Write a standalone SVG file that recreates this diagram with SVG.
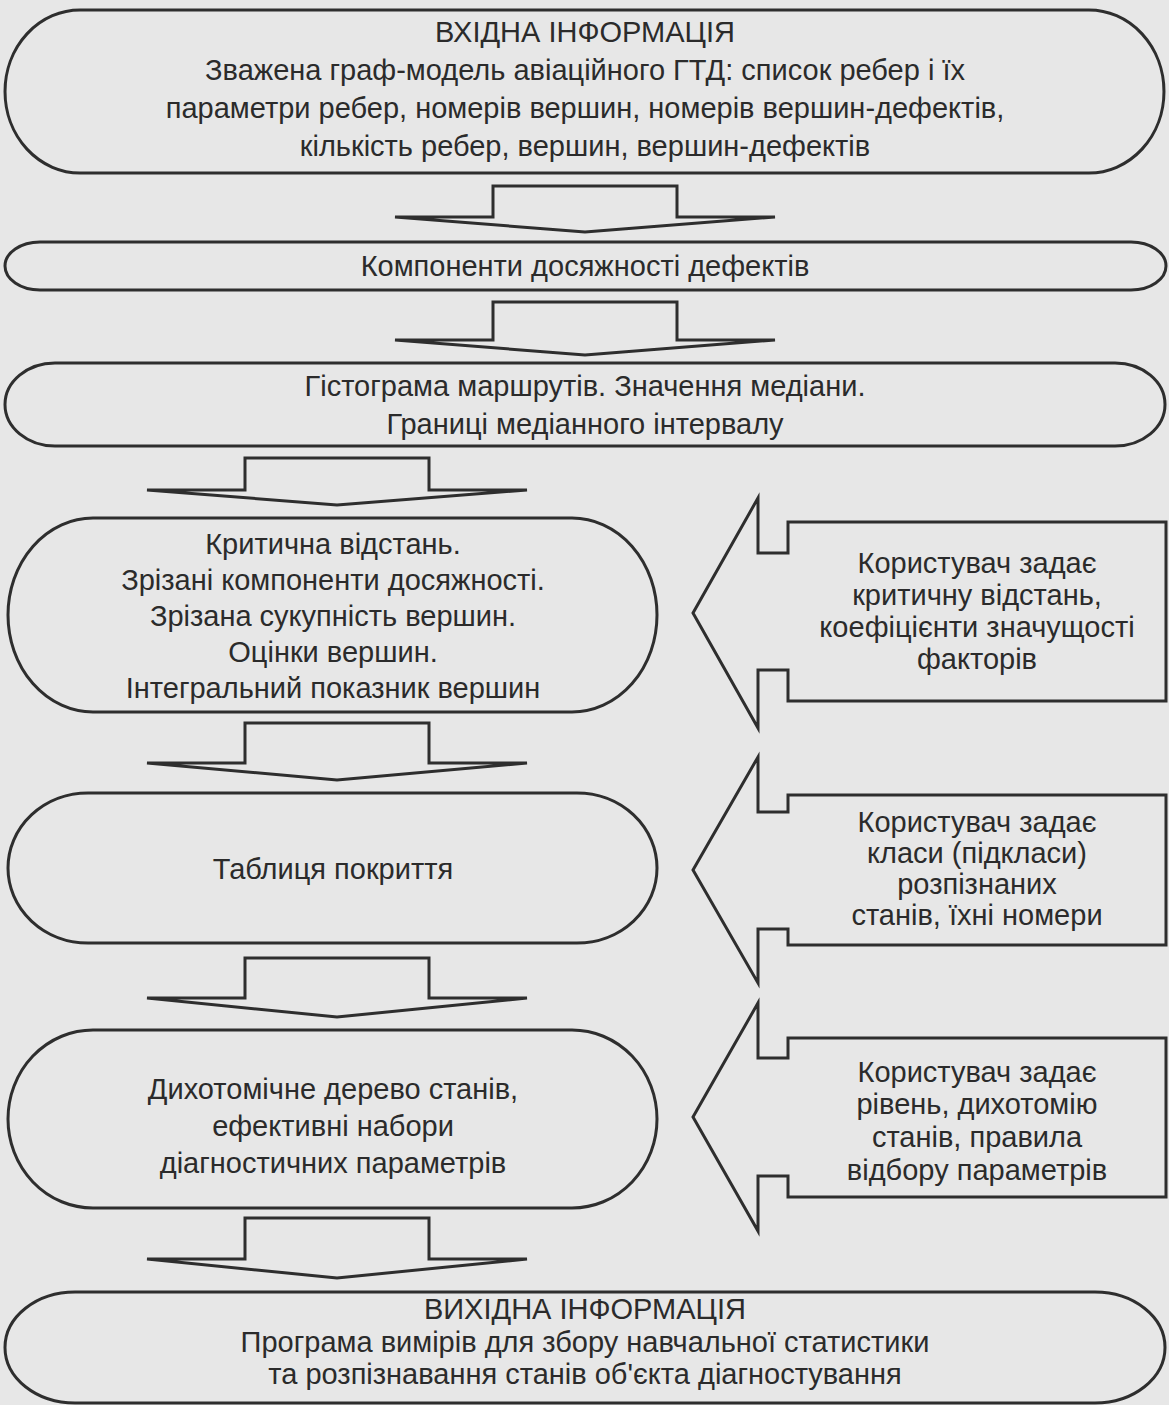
<svg xmlns="http://www.w3.org/2000/svg" width="1169" height="1405" viewBox="0 0 1169 1405">
<style>
.shape{fill:none;stroke:#2e2e2e;stroke-width:3;stroke-linejoin:miter}
.t{font-family:"Liberation Sans",Arial,sans-serif;font-size:29px;fill:#2b2b2b;text-anchor:middle}
</style>
<rect x="0" y="0" width="1169" height="1405" fill="#e7e7e7"/>
<g id="connectors">
<path class="shape" d="M493,186 H677 V217 H775 L585,232 L395,217 H493 Z"/>
<path class="shape" d="M493,302 H677 V340 H775 L585,355 L395,340 H493 Z"/>
<path class="shape" d="M245,458 H429 V490 H527 L337,505 L147,490 H245 Z"/>
<path class="shape" d="M245,723 H429 V763 H527 L337,780 L147,763 H245 Z"/>
<path class="shape" d="M245,958 H429 V998 H527 L337,1017 L147,998 H245 Z"/>
<path class="shape" d="M245,1218 H429 V1259 H527 L337,1278 L147,1259 H245 Z"/>
</g>
<g id="input">
<path class="shape" d="M80,10 H1089 A75,81.5 0 0 1 1089,173 H80 A75,81.5 0 0 1 80,10 Z"/>
<text class="t" x="585" y="42">ВХІДНА ІНФОРМАЦІЯ</text>
<text class="t" x="585" y="80">Зважена граф-модель авіаційного ГТД: список ребер і їх</text>
<text class="t" x="585" y="118">параметри ребер, номерів вершин, номерів вершин-дефектів,</text>
<text class="t" x="585" y="156">кількість ребер, вершин, вершин-дефектів</text>
</g>
<g id="components">
<path class="shape" d="M40,242 H1131 A35,24 0 0 1 1131,290 H40 A35,24 0 0 1 40,242 Z"/>
<text class="t" x="585" y="276">Компоненти досяжності дефектів</text>
</g>
<g id="histogram">
<path class="shape" d="M55,363 H1115 A50,41.5 0 0 1 1115,446 H55 A50,41.5 0 0 1 55,363 Z"/>
<text class="t" x="585" y="396">Гістограма маршрутів. Значення медіани.</text>
<text class="t" x="585" y="434">Границі медіанного інтервалу</text>
</g>
<g id="critical">
<path class="shape" d="M93,518 H572 A85,97 0 0 1 572,712 H93 A85,97 0 0 1 93,518 Z"/>
<text class="t" x="333" y="554">Критична відстань.</text>
<text class="t" x="333" y="590">Зрізані компоненти досяжності.</text>
<text class="t" x="333" y="626">Зрізана сукупність вершин.</text>
<text class="t" x="333" y="662">Оцінки вершин.</text>
<text class="t" x="333" y="698">Інтегральний показник вершин</text>
</g>
<g id="coverage">
<path class="shape" d="M88,793 H577 A80,75 0 0 1 577,943 H88 A80,75 0 0 1 88,793 Z"/>
<text class="t" x="333" y="879">Таблиця покриття</text>
</g>
<g id="tree">
<path class="shape" d="M93,1030 H572 A85,89 0 0 1 572,1208 H93 A85,89 0 0 1 93,1030 Z"/>
<text class="t" x="333" y="1099">Дихотомічне дерево станів,</text>
<text class="t" x="333" y="1136">ефективні набори</text>
<text class="t" x="333" y="1173">діагностичних параметрів</text>
</g>
<g id="output">
<path class="shape" d="M75,1292 H1095 A70,55.5 0 0 1 1095,1403 H75 A70,55.5 0 0 1 75,1292 Z"/>
<text class="t" x="585" y="1319">ВИХІДНА ІНФОРМАЦІЯ</text>
<text class="t" x="585" y="1352">Програма вимірів для збору навчальної статистики</text>
<text class="t" x="585" y="1384">та розпізнавання станів об'єкта діагностування</text>
</g>
<g id="user-distance">
<path class="shape" d="M693,613 L758,498 V553 H788 V522 H1166 V701 H788 V670 H758 V728 Z"/>
<text class="t" x="977" y="573">Користувач задає</text>
<text class="t" x="977" y="605">критичну відстань,</text>
<text class="t" x="977" y="637">коефіцієнти значущості</text>
<text class="t" x="977" y="669">факторів</text>
</g>
<g id="user-classes">
<path class="shape" d="M693,870 L758,757 V812 H788 V795 H1166 V945 H788 V929 H758 V983 Z"/>
<text class="t" x="977" y="832">Користувач задає</text>
<text class="t" x="977" y="863">класи (підкласи)</text>
<text class="t" x="977" y="894">розпізнаних</text>
<text class="t" x="977" y="925">станів, їхні номери</text>
</g>
<g id="user-levels">
<path class="shape" d="M693,1117 L758,1003 V1058 H788 V1038 H1166 V1197 H788 V1176 H758 V1231 Z"/>
<text class="t" x="977" y="1082">Користувач задає</text>
<text class="t" x="977" y="1114">рівень, дихотомію</text>
<text class="t" x="977" y="1147">станів, правила</text>
<text class="t" x="977" y="1180">відбору параметрів</text>
</g>
</svg>
